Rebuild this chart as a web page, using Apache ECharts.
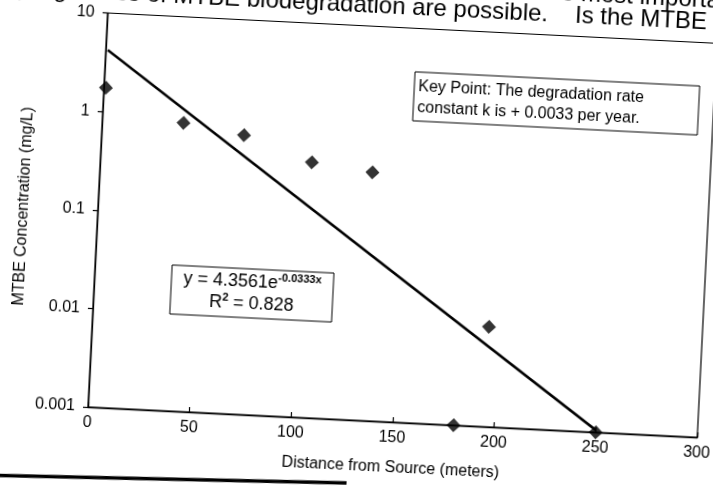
<!DOCTYPE html>
<html>
<head>
<meta charset="utf-8">
<script src="https://cdn.jsdelivr.net/npm/echarts@6/dist/echarts.min.js"></script>
<style>
  html, body { margin: 0; padding: 0; background: #fff; overflow: hidden; width: 713px; height: 488px; }
  #chart { position: absolute; left: -40px; top: -40px; width: 800px; height: 570px;
           transform-origin: 128px 447px; transform: rotate(2.85deg); }
</style>
</head>
<body>
<div id="chart"></div>
<script>
// ---- data ----
const distance = [1, 40, 70, 104, 134, 180, 195, 250];          // metres
const mtbe     = [1.75, 0.84, 0.68, 0.39, 0.33, 0.001, 0.0103, 0.001]; // mg/L
const trendX   = [1, 250];            // exponential trendline end points
const trendY   = [4.21, 0.00105];
const xTicks   = ['0', '50', '100', '150', '200', '250', '300'];
const yTickLabels = ['0.001', '0.01', '0.1', '1', '10'];

const FONT = "'Liberation Sans', Arial, sans-serif";
const chart = echarts.init(document.getElementById('chart'), null, { renderer: 'canvas' });

const option = {
  backgroundColor: '#fff',
  animation: false,
  grid: { left: 128, top: 52.5, width: 610, height: 394.5, show: true,
          borderColor: '#000', borderWidth: 1.2, backgroundColor: 'transparent' },
  xAxis: {
    type: 'value', min: 0, max: 300, interval: 50,
    name: 'Distance from Source (meters)', nameLocation: 'middle', nameGap: 38,
    nameTextStyle: { fontFamily: FONT, fontSize: 16, color: '#000' },
    axisLine: { lineStyle: { color: '#000', width: 1.3 } },
    axisTick: { inside: true, length: 5, lineStyle: { color: '#000', width: 1.2 } },
    axisLabel: { fontFamily: FONT, fontSize: 16, color: '#000', margin: 8,
                 formatter: v => xTicks[Math.round(v / 50)] },
    splitLine: { show: false }
  },
  yAxis: {
    type: 'log', logBase: 10, min: 0.001, max: 10,
    name: 'MTBE Concentration (mg/L)', nameLocation: 'middle', nameGap: 66, nameRotate: 90,
    nameTextStyle: { fontFamily: FONT, fontSize: 16, color: '#000' },
    axisLine: { show: true, lineStyle: { color: '#000', width: 1.3 } },
    axisTick: { show: true, inside: false, length: 5, lineStyle: { color: '#000', width: 1.2 } },
    axisLabel: { fontFamily: FONT, fontSize: 16, color: '#000', margin: 13,
                 formatter: v => yTickLabels[Math.round(Math.log10(v)) + 3] },
    splitLine: { show: false }
  },
  series: [
    {
      type: 'line', data: trendX.map((x, i) => [x, trendY[i]]),
      showSymbol: false, symbol: 'none', clip: false,
      lineStyle: { color: '#000', width: 2.6 }, z: 2
    },
    {
      type: 'scatter', data: distance.map((x, i) => [x, mtbe[i]]),
      symbol: 'diamond', symbolSize: 14, clip: false,
      itemStyle: { color: '#000' }, z: 3
    }
  ],
  graphic: [
    // scanned page text above the chart (clipped at the top of the page)
    { type: 'text', x: 560, y: 22, z: 10,
      style: { text: 'the most important', font: '24px ' + FONT, fill: '#000',
               textAlign: 'left', textVerticalAlign: 'bottom' } },
    { type: 'text', x: 568, y: 44, z: 10,
      style: { text: 'very high rates of MTBE biodegradation are possible.', font: '24px ' + FONT,
               fill: '#000', textAlign: 'right', textVerticalAlign: 'bottom' } },
    { type: 'text', x: 595, y: 44, z: 10,
      style: { text: 'Is the MTBE plume', font: '24px ' + FONT, fill: '#000',
               textAlign: 'left', textVerticalAlign: 'bottom' } },
    // key point box
    { type: 'rect', z: 10, shape: { x: 438, y: 96, width: 285, height: 49 },
      style: { fill: '#fff', stroke: '#000', lineWidth: 1 } },
    { type: 'text', x: 442, y: 100, z: 11,
      style: { text: 'Key Point: The degradation rate\nconstant k is + 0.0033 per year.',
               font: '16px ' + FONT, fill: '#000', lineHeight: 21,
               textAlign: 'left', textVerticalAlign: 'top' } },
    // equation box
    { type: 'rect', z: 10, shape: { x: 205, y: 301, width: 162, height: 49 },
      style: { fill: '#fff', stroke: '#000', lineWidth: 1 } },
    { type: 'text', x: 286, y: 303, z: 11,
      style: {
        text: '{a|y = 4.3561e}{s|-0.0333x}\n{a|R}{s|2}{a| = 0.828}',
        textAlign: 'center', textVerticalAlign: 'top', fill: '#000',
        rich: {
          a: { fontFamily: FONT, fontSize: 18, lineHeight: 22, fill: '#000' },
          s: { fontFamily: FONT, fontSize: 11, fontWeight: 'bold', lineHeight: 22,
               verticalAlign: 'top', fill: '#000' }
        }
      } },
    // rule line of the page below the chart
    { type: 'line', z: 10, shape: { x1: 0, y1: 521, x2: 390, y2: 510 },
      style: { stroke: '#000', lineWidth: 3.5 } }
  ]
};
chart.setOption(option);
</script>
</body>
</html>
